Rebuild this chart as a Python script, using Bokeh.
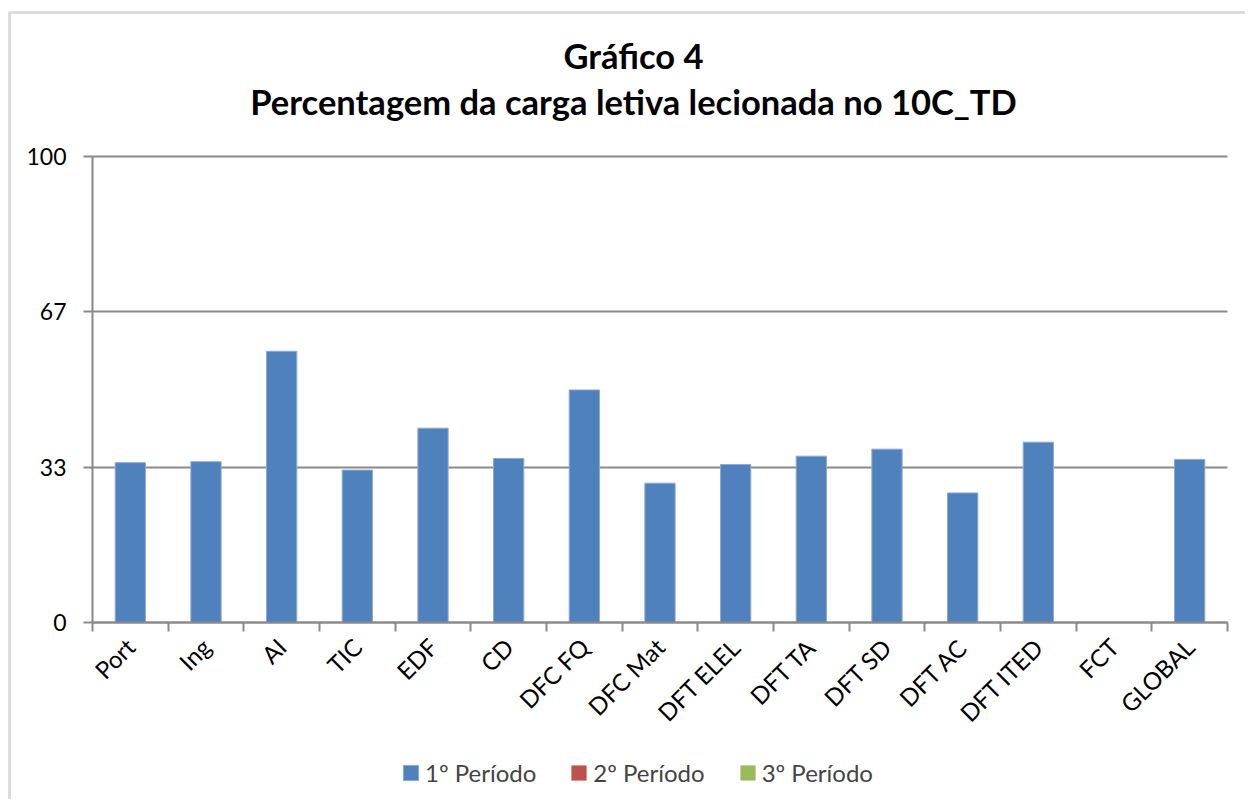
from bokeh.plotting import figure
from bokeh.models import (Range1d, FixedTicker, ColumnDataSource, Legend, LegendItem,
                          Label, BoxAnnotation)
from bokeh.embed import file_html
from bokeh.resources import INLINE

# ---- data ----
categories = ["Port", "Ing", "AI", "TIC", "EDF", "CD", "DFC FQ", "DFC Mat",
              "DFT ELEL", "DFT TA", "DFT SD", "DFT AC", "DFT ITED", "FCT", "GLOBAL"]
periodo1 = [34.3, 34.5, 58.2, 32.7, 41.7, 35.2, 49.9, 29.9,
            33.9, 35.7, 37.2, 27.8, 38.7, 0.0, 35.0]
periodo2 = [0, 0, 0, 0, 0, 0, 0, 0, 0, 0, 0, 0, 0, 0, 0]
periodo3 = [0, 0, 0, 0, 0, 0, 0, 0, 0, 0, 0, 0, 0, 0, 0]
series_names = ["1º Período", "2º Período", "3º Período"]
y_ticks = [0, 100 / 3, 200 / 3, 100]
y_tick_labels = ["0", "33", "67", "100"]
title_lines = ["Gráfico 4", "Percentagem da carga letiva lecionada no 10C_TD"]

FONT = "Lato"
GRID = "#8a8a8a"

# ---- layout (pixels) ----
W, H = 1245, 799
PL, PR, PT, PB = 92, 1227, 156, 622      # plot-area edges
n = len(categories)
ppx = (PR - PL) / n
ppy = (PB - PT) / 100.0
x_rng = Range1d(-PL / ppx, n + (W - PR) / ppx)
y_rng = Range1d(-(H - PB) / ppy, 100 + PT / ppy)

p = figure(width=W, height=H, output_backend="svg", toolbar_location=None,
           x_range=x_rng, y_range=y_rng, min_border=0, title=None)
p.outline_line_color = None
p.background_fill_color = "white"
p.border_fill_color = "white"

xs = [i + 0.5 for i in range(n)]
r1 = p.vbar(x="x", top="top", width=0.4, bottom=0,
            source=ColumnDataSource(dict(x=xs, top=periodo1)),
            fill_color="#4F81BD", line_color="#8fa9d3", line_width=1)
r2 = p.vbar(x="x", top="top", width=0.4, bottom=0,
            source=ColumnDataSource(dict(x=xs, top=periodo2)),
            fill_color="#C0504D", line_color=None)
r3 = p.vbar(x="x", top="top", width=0.4, bottom=0,
            source=ColumnDataSource(dict(x=xs, top=periodo3)),
            fill_color="#9BBB59", line_color=None)

# x axis
xa = p.xaxis[0]
xa.fixed_location = 0
xa.bounds = (0, n)
xa.ticker = FixedTicker(ticks=xs, minor_ticks=list(range(n + 1)))
xa.major_label_overrides = {x: c for x, c in zip(xs, categories)}
xa.major_tick_out = 0
xa.major_tick_in = 0
xa.minor_tick_out = 9
xa.minor_tick_in = 0
xa.minor_tick_line_color = GRID
xa.minor_tick_line_width = 2
xa.axis_line_color = GRID
xa.axis_line_width = 2
xa.major_label_orientation = 0.785398
xa.major_label_standoff = 11
xa.major_label_text_font = FONT
xa.major_label_text_font_size = "24px"
xa.major_label_text_color = "black"

# y axis
ya = p.yaxis[0]
ya.fixed_location = 0
ya.bounds = (0, 100)
ya.ticker = FixedTicker(ticks=y_ticks, minor_ticks=[])
ya.major_label_overrides = {t: l for t, l in zip(y_ticks, y_tick_labels)}
ya.major_tick_out = 9
ya.major_tick_in = 0
ya.major_tick_line_color = GRID
ya.major_tick_line_width = 2
ya.minor_tick_line_color = None
ya.axis_line_color = GRID
ya.axis_line_width = 2
ya.major_label_standoff = 17
ya.major_label_text_font = FONT
ya.major_label_text_font_size = "23px"
ya.major_label_text_color = "black"

p.xgrid.grid_line_color = None
grid_ok = True
try:
    p.ygrid.cross_bounds = (0, n)
except Exception:
    grid_ok = False
if grid_ok:
    p.ygrid.grid_line_color = GRID
    p.ygrid.grid_line_width = 2
else:
    p.ygrid.grid_line_color = None
    p.segment(x0=[0] * len(y_ticks), x1=[n] * len(y_ticks), y0=y_ticks, y1=y_ticks,
              line_color=GRID, line_width=2)

# titles (screen units, frame == whole canvas)
p.add_layout(Label(x=633, y=H - 55, x_units="screen", y_units="screen", text=title_lines[0],
                   text_align="center", text_baseline="alphabetic", text_font=FONT,
                   text_font_size="34.5px", text_font_style="bold", text_color="black"))
p.add_layout(Label(x=633, y=H - 101, x_units="screen", y_units="screen", text=title_lines[1],
                   text_align="center", text_baseline="alphabetic", text_font=FONT,
                   text_font_size="34.5px", text_font_style="bold", text_color="black"))

# chart border
p.add_layout(BoxAnnotation(left=9, right=W + 20, top=H - 12, bottom=-20,
                           left_units="screen", right_units="screen",
                           top_units="screen", bottom_units="screen",
                           fill_alpha=0, line_color=GRID, line_width=3))

legend = Legend(items=[LegendItem(label=series_names[0], renderers=[r1]),
                       LegendItem(label=series_names[1], renderers=[r2]),
                       LegendItem(label=series_names[2], renderers=[r3])],
                orientation="horizontal", location=(401, 12),
                label_text_font=FONT, label_text_font_size="24px",
                glyph_width=19, glyph_height=19, label_standoff=5, spacing=33,
                border_line_color=None, background_fill_alpha=0, margin=0, padding=0)
p.add_layout(legend)

open("out.html", "w").write(file_html(p, INLINE))
